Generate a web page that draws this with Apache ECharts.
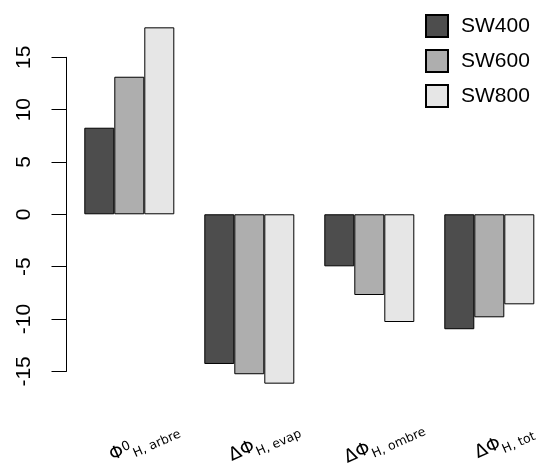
<!DOCTYPE html>
<html>
<head>
<meta charset="utf-8">
<script src="https://cdn.jsdelivr.net/npm/echarts@6/dist/echarts.min.js"></script>
<style>html,body{margin:0;padding:0;background:#fff;}#c{width:538px;height:465px;}</style>
</head>
<body>
<div id="c"></div>
<script>
// ---- data ----
const seriesNames = ['SW400', 'SW600', 'SW800'];
const mainSymbols = ['Φ', 'ΔΦ', 'ΔΦ', 'ΔΦ'];
const superscripts = ['0', '', '', ''];
const subscripts = ['H, arbre', 'H, evap', 'H, ombre', 'H, tot'];
const SW400 = [8.27, -14.30, -4.97, -10.98];
const SW600 = [13.14, -15.28, -7.71, -9.84];
const SW800 = [17.86, -16.18, -10.29, -8.60];
const yTicks = [-15, -10, -5, 0, 5, 10, 15];
const colors = ['#4D4D4D', '#AEAEAE', '#E6E6E6'];

const values = [SW400, SW600, SW800];
const catIndex = subscripts.map((_, i) => i);
const FONT = 'Liberation Sans';
const LFONT = 'DejaVu Sans';

const chart = echarts.init(document.getElementById('c'), null, {renderer: 'canvas'});

// x scale: one category = 120 px, first group centred at 129.3 px
const gridLeft = 66.5, W = 538;
const unit = 120, c0 = 129.3;
const xMin = (gridLeft - c0) / unit;
const xMax = (W - c0) / unit;
const labelShift = 15.5 / unit;

const option = {
  animation: false,
  backgroundColor: '#ffffff',
  legend: {
    orient: 'vertical',
    left: 425, top: 14, padding: 0,
    itemWidth: 22, itemHeight: 22, itemGap: 11,
    icon: 'rect',
    data: seriesNames,
    textStyle: {fontFamily: FONT, fontSize: 21, color: '#000', padding: [0, 0, 0, 8]}
  },
  grid: [
    {left: gridLeft, right: 0, top: 13.1, height: 384.8, outerBoundsMode: 'none', containLabel: false},
    {left: gridLeft, width: 10, top: 57.3, height: 314.1, outerBoundsMode: 'none', containLabel: false}
  ],
  xAxis: [
    {gridIndex: 0, type: 'value', min: xMin, max: xMax, show: false, position: 'bottom'},
    {gridIndex: 1, type: 'value', show: false},
    {gridIndex: 0, type: 'value', min: xMin - labelShift, max: xMax - labelShift, position: 'bottom',
     axisLine: {show: false}, axisTick: {show: false}, splitLine: {show: false},
     axisLabel: {
       customValues: catIndex,
       rotate: 24, margin: 46, align: 'center', verticalAlign: 'middle',
       hideOverlap: false, showMinLabel: true, showMaxLabel: true,
       formatter: function (v) {
         const i = Math.round(v);
         let s = '{m|' + mainSymbols[i] + '}';
         if (superscripts[i]) s += '{p|' + superscripts[i] + '}';
         s += '{s|' + subscripts[i] + '}';
         return s;
       },
       rich: {
         m: {fontFamily: LFONT, fontSize: 18, color: '#000', padding: [0, 0, 5, 0]},
         p: {fontFamily: LFONT, fontSize: 13, color: '#000', verticalAlign: 'top'},
         s: {fontFamily: LFONT, fontSize: 12.5, color: '#000', verticalAlign: 'bottom'}
       }
     }}
  ],
  yAxis: [
    {gridIndex: 0, type: 'value', min: -17.54, max: 19.22, show: false},
    {gridIndex: 1, type: 'value', min: yTicks[0], max: yTicks[yTicks.length - 1], interval: 5,
     splitLine: {show: false},
     axisLine: {show: true, lineStyle: {color: '#000', width: 1}},
     axisTick: {show: true, length: 15, lineStyle: {color: '#000', width: 1}},
     axisLabel: {rotate: 90, margin: 42.5, align: 'center', verticalAlign: 'middle',
                 fontFamily: FONT, fontSize: 21, color: '#000'}}
  ],
  series: seriesNames.map((name, k) => ({
    name: name,
    type: 'bar',
    xAxisIndex: 0, yAxisIndex: 0,
    data: values[k].map((v, i) => [catIndex[i], v]),
    barWidth: 30,
    barGap: '0%',
    itemStyle: {color: colors[k], borderColor: '#000', borderWidth: 1}
  }))
};
chart.setOption(option);
</script>
</body>
</html>
